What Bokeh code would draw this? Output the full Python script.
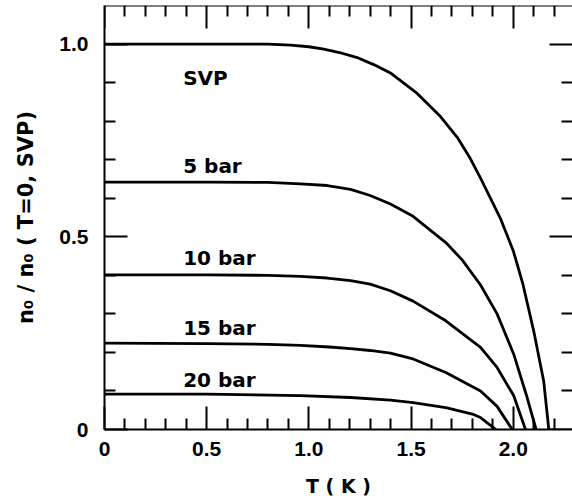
from bokeh.plotting import figure
from bokeh.models import LinearAxis, FixedTicker, CustomJSTickFormatter, Range1d
from bokeh.core.properties import value
from bokeh.embed import file_html
from bokeh.resources import INLINE

# ---- data ----
T_svp = [0.0, 0.5, 0.8, 0.91, 1.0, 1.073, 1.15, 1.236, 1.32, 1.399, 1.53, 1.644, 1.726, 1.79, 1.84, 1.937, 2.0, 2.046, 2.1, 2.149, 2.174]
n_svp = [1.0, 1.0, 1.0, 0.997, 0.993, 0.987, 0.978, 0.965, 0.946, 0.925, 0.872, 0.812, 0.758, 0.703, 0.652, 0.548, 0.464, 0.38, 0.256, 0.126, 0.0]

T_5 = [0.0, 0.5, 0.8, 0.959, 1.09, 1.204, 1.3, 1.399, 1.51, 1.67, 1.75, 1.84, 1.921, 2.002, 2.068, 2.112]
n_5 = [0.642, 0.642, 0.641, 0.637, 0.633, 0.623, 0.607, 0.585, 0.553, 0.485, 0.44, 0.375, 0.3, 0.196, 0.083, 0.0]

T_10 = [0.0, 0.5, 0.8, 0.959, 1.09, 1.204, 1.3, 1.399, 1.51, 1.67, 1.84, 1.921, 2.002, 2.06]
n_10 = [0.401, 0.401, 0.4, 0.397, 0.393, 0.386, 0.377, 0.36, 0.333, 0.282, 0.213, 0.161, 0.088, 0.0]

T_15 = [0.0, 0.5, 0.8, 0.959, 1.1, 1.204, 1.3, 1.399, 1.51, 1.67, 1.84, 1.921, 1.995]
n_15 = [0.224, 0.223, 0.221, 0.218, 0.214, 0.21, 0.205, 0.198, 0.183, 0.148, 0.1, 0.06, 0.0]

T_20 = [0.0, 0.5, 0.959, 1.204, 1.399, 1.51, 1.67, 1.80, 1.84, 1.915]
n_20 = [0.092, 0.092, 0.088, 0.083, 0.076, 0.07, 0.057, 0.04, 0.031, 0.0]

curve_labels = ["SVP", "5 bar", "10 bar", "15 bar", "20 bar"]
label_x = [0.385, 0.385, 0.385, 0.385, 0.385]
label_y = [0.913, 0.684, 0.445, 0.263, 0.128]

x_major = [0.0, 0.5, 1.0, 1.5, 2.0]
x_minor = [0.1, 0.2, 0.3, 0.4, 0.6, 0.7, 0.8, 0.9, 1.1, 1.2, 1.3, 1.4,
           1.6, 1.7, 1.8, 1.9, 2.1, 2.2]
y_major = [0.0, 0.5, 1.0]
y_minor = [0.1, 0.2, 0.3, 0.4, 0.6, 0.7, 0.8, 0.9]

x_title = "T ( K )"
y_title = "n\u2080 / n\u2080 ( T=0, SVP)"

X_END = 2.29
Y_END = 1.1

TICK_FONT = "Liberation Sans"
TEXT_FONT = "DejaVu Sans"

p = figure(width=572, height=500,
           x_range=Range1d(0, X_END), y_range=Range1d(0, Y_END),
           output_backend="svg", toolbar_location=None,
           min_border_left=104, min_border_right=0,
           min_border_top=5, min_border_bottom=71)
p.xgrid.visible = False
p.ygrid.visible = False
p.outline_line_color = None
p.background_fill_color = "white"
p.border_fill_color = "white"

fmt = CustomJSTickFormatter(code="return tick == 0 ? '0' : tick.toFixed(1);")
blank = CustomJSTickFormatter(code="return '';")


def style(ax, ticks, minors, show_labels):
    ax.ticker = FixedTicker(ticks=ticks, minor_ticks=minors)
    ax.axis_line_width = 2
    ax.axis_line_color = "black"
    ax.major_tick_in = 23
    ax.major_tick_out = 0
    ax.minor_tick_in = 11
    ax.minor_tick_out = 0
    ax.major_tick_line_width = 2
    ax.minor_tick_line_width = 2
    ax.major_tick_line_color = "black"
    ax.minor_tick_line_color = "black"
    if show_labels:
        ax.formatter = fmt
        ax.major_label_text_font = TICK_FONT
        ax.major_label_text_font_style = "bold"
        ax.major_label_text_font_size = "21px"
        ax.major_label_text_color = "black"
    else:
        ax.formatter = blank
        ax.major_label_text_font_size = "0px"
        ax.major_label_standoff = 0


xax = p.xaxis[0]
style(xax, x_major, x_minor, True)
xax.major_label_standoff = 12
xax.axis_label = x_title
xax.axis_label_text_font = TEXT_FONT
xax.axis_label_text_font_style = "bold"
xax.axis_label_text_font_size = "19px"
xax.axis_label_text_color = "black"
xax.axis_label_standoff = 16

yax = p.yaxis[0]
style(yax, y_major, y_minor, True)
yax.major_label_standoff = 16
yax.major_label_orientation = "horizontal"
yax.axis_label = y_title
yax.axis_label_text_font = TEXT_FONT
yax.axis_label_text_font_style = "bold"
yax.axis_label_text_font_size = "21px"
yax.axis_label_text_color = "black"
yax.axis_label_standoff = 18

top = LinearAxis(fixed_location=Y_END)
style(top, x_major, x_minor, False)
p.add_layout(top, "above")

right = LinearAxis(fixed_location=X_END)
style(right, y_major, y_minor, False)
right.axis_line_color = None
p.add_layout(right, "right")

for T, n in [(T_svp, n_svp), (T_5, n_5), (T_10, n_10), (T_15, n_15), (T_20, n_20)]:
    p.line(T, n, line_width=2.8, line_color="black", line_join="round")

p.text(x=label_x, y=label_y, text=curve_labels,
       text_font=value(TEXT_FONT), text_font_style="bold",
       text_font_size="20px", text_color="black",
       text_align="left", text_baseline="alphabetic")

open("out.html", "w").write(file_html(p, INLINE))
